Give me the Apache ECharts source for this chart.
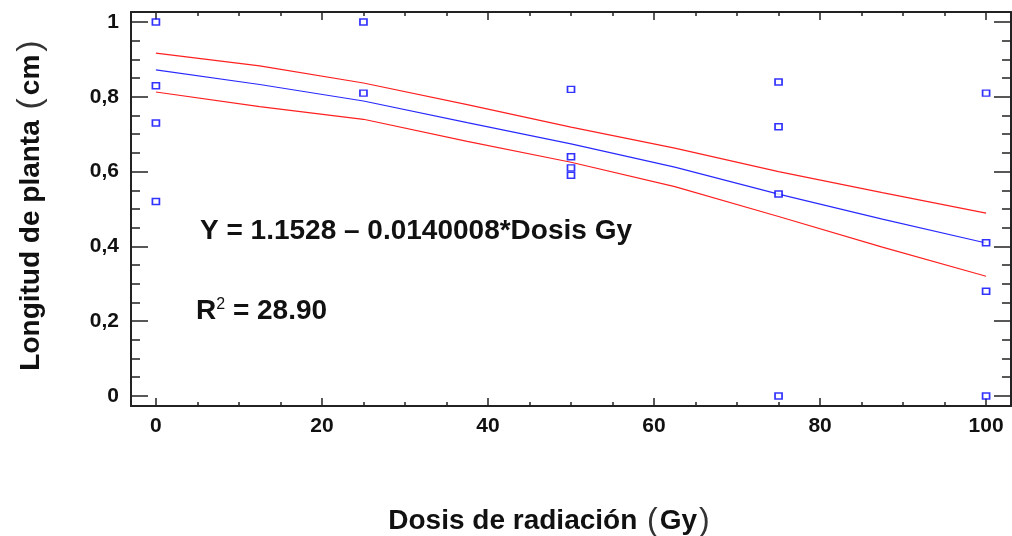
<!DOCTYPE html>
<html>
<head>
<meta charset="utf-8">
<script src="https://cdn.jsdelivr.net/npm/echarts@6/dist/echarts.min.js"></script>
<style>html,body{margin:0;padding:0;background:#fff;}#c{width:1012px;height:536px;}</style>
</head>
<body>
<div id="c"></div>
<script>
// Observed data
var doseValues = [0,0,0,0, 25,25, 50,50,50,50, 75,75,75,75, 100,100,100,100];
var lengthValues = [1.0,0.83,0.73,0.52, 1.0,0.81, 0.82,0.64,0.61,0.59, 0.84,0.72,0.54,0.0, 0.81,0.41,0.28,0.0];
// Fitted model and limits
var fitX = [0,12.5,25,37.5,50,62.5,75,87.5,100];
var fitY = [0.872,0.833,0.789,0.731,0.674,0.612,0.540,0.473,0.409];
var upperY = [0.917,0.883,0.837,0.779,0.719,0.663,0.600,0.544,0.489];
var lowerY = [0.813,0.774,0.740,0.681,0.625,0.560,0.480,0.398,0.320];
// Ticks
var xMajorTicks = [0,20,40,60,80,100];
var xMinorTicks = [5,10,15,25,30,35,45,50,55,65,70,75,85,90,95];
var yMajorTicks = [0,0.2,0.4,0.6,0.8,1];
var yMinorTicks = [0.05,0.1,0.15,0.25,0.3,0.35,0.45,0.5,0.55,0.65,0.7,0.75,0.85,0.9,0.95];

function zip(a,b){ return a.map(function(v,i){ return [v,b[i]]; }); }

var axisColor = '#222';
var FONT = 'Liberation Sans, Arial';
var labelFont = {fontFamily:FONT, fontWeight:'bold', fontSize:21, color:'#111'};

function xAx(pos, major, withLabel){
  return {
    type:'value', position:pos, min:-3, max:103,
    axisLine:{show:major, onZero:false, lineStyle:{color:axisColor, width:2}},
    axisTick:{show:true, inside:true, length: major?8:4, customValues: major?xMajorTicks:xMinorTicks, lineStyle:{color:axisColor, width:1.5}},
    axisLabel:Object.assign({show:withLabel, customValues:xMajorTicks, margin:10}, labelFont),
    splitLine:{show:false}
  };
}
function yAx(pos, major, withLabel){
  return {
    type:'value', position:pos, min:-0.027, max:1.027,
    axisLine:{show:major, onZero:false, lineStyle:{color:axisColor, width:2}},
    axisTick:{show:true, inside:true, length: major?17:9, customValues: major?yMajorTicks:yMinorTicks, lineStyle:{color:axisColor, width:1.5}},
    axisLabel:Object.assign({show:withLabel, customValues:yMajorTicks, margin:12,
      formatter:function(v){ return String(Math.round(v*10)/10).replace('.',','); }}, labelFont),
    splitLine:{show:false}
  };
}

var chart = echarts.init(document.getElementById('c'), null, {renderer:'canvas'});
chart.setOption({
  animation:false,
  backgroundColor:'#fff',
  grid:{left:131, right:1, top:12, bottom:130, containLabel:false},
  xAxis:[xAx('bottom',true,true), xAx('bottom',false,false), xAx('top',true,false), xAx('top',false,false)],
  yAxis:[yAx('left',true,true), yAx('left',false,false), yAx('right',true,false), yAx('right',false,false)],
  series:[
    {type:'line', data:zip(fitX,upperY), showSymbol:false, lineStyle:{color:'#ff2020', width:1.2}, z:2},
    {type:'line', data:zip(fitX,lowerY), showSymbol:false, lineStyle:{color:'#ff2020', width:1.2}, z:2},
    {type:'line', data:zip(fitX,fitY), showSymbol:false, lineStyle:{color:'#2a2aff', width:1.2}, z:2},
    {type:'scatter', data:zip(doseValues,lengthValues), symbol:'rect', symbolSize:[7,6],
     itemStyle:{color:'#fff', borderColor:'#0000ff', borderWidth:1.6}, z:3}
  ],
  graphic:[
    {type:'text', x:200, y:231, style:{text:'Y = 1.1528 – 0.0140008*Dosis Gy', verticalAlign:'middle', fontFamily:FONT, fontWeight:'bold', fontSize:28, fill:'#111'}},
    {type:'text', x:196, y:311, style:{text:'{a|R}{s|2}{a| = 28.90}', verticalAlign:'middle', rich:{
      a:{fontFamily:FONT, fontWeight:'bold', fontSize:28, fill:'#111', color:'#111'},
      s:{fontFamily:FONT, fontWeight:'normal', fontSize:16, fill:'#111', color:'#111', verticalAlign:'top', padding:[0,0,12,0]}
    }}},
    {type:'text', x:31, y:204, rotation:Math.PI/2, style:{text:'Longitud de planta {p|(}cm{p|)}', align:'center', verticalAlign:'middle',
      fontFamily:FONT, fontWeight:'bold', fontSize:28, fill:'#111',
      rich:{p:{fontFamily:FONT, fontWeight:'normal', fontSize:34, fill:'#333', color:'#333', padding:[0,3,0,3]}}}},
    {type:'text', x:550, y:521, style:{text:'Dosis de radiación {p|(}Gy{p|)}', align:'center', verticalAlign:'middle',
      fontFamily:FONT, fontWeight:'bold', fontSize:28, fill:'#111',
      rich:{p:{fontFamily:FONT, fontWeight:'normal', fontSize:32, fill:'#333', color:'#333', padding:[0,2,0,2]}}}}
  ]
});
</script>
</body>
</html>
